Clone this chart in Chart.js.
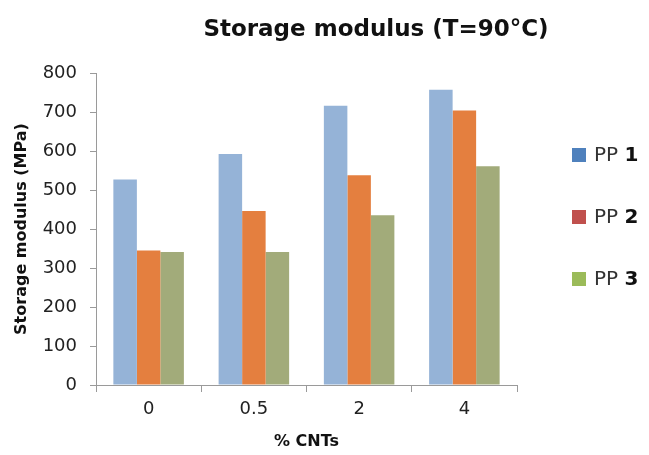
<!DOCTYPE html>
<html>
<head>
<meta charset="utf-8">
<script src="https://cdn.jsdelivr.net/npm/chart.js@4/dist/chart.umd.min.js"></script>
<style>
  html, body { margin: 0; padding: 0; background: #fff; }
  #wrap { position: relative; width: 649px; height: 455px; overflow: hidden; }
  #chart { position: absolute; left: 0; top: 0; }
  #title {
    position: absolute; left: 376px; top: 15px; transform: translateX(-50%);
    font: bold 23px "DejaVu Sans", sans-serif; color: #111; white-space: nowrap;
  }
  #legend { position: absolute; left: 572px; top: 0; }
  .item { position: absolute; left: 0; white-space: nowrap; font: 20px "DejaVu Sans", sans-serif; color: #333; }
  .item .sw { display: inline-block; width: 14px; height: 14px; margin-right: 8px; vertical-align: -1px; }
  .item b { color: #111; }
</style>
</head>
<body>
<div id="wrap">
  <canvas id="chart" width="649" height="455"></canvas>
  <div id="title">Storage modulus (T=90°C)</div>
  <div id="legend"></div>
</div>
<script>
// CNT content (%) on the x axis
const categories = ['0', '0.5', '2', '4'];
// storage modulus at 90 °C, MPa
const pp1 = [527, 592, 716, 757];
const pp2 = [345, 446, 538, 704];
const pp3 = [341, 341, 435, 561];
const seriesNames = ['PP 1', 'PP 2', 'PP 3'];
const yTicks = [0, 100, 200, 300, 400, 500, 600, 700, 800];

const barColors = ['#95B3D7', '#E47F3F', '#A2AB7A'];
const keyColors = ['#4F81BD', '#C0504D', '#9BBB59'];
const FONT = '"DejaVu Sans", sans-serif';

// legend built as html so the number can be bold
const legendRows = [154, 216, 278];
const legend = document.getElementById('legend');
seriesNames.forEach((name, i) => {
  const parts = name.split(' ');
  const row = document.createElement('div');
  row.className = 'item';
  row.style.top = (legendRows[i] - 12) + 'px';
  row.innerHTML = '<span class="sw" style="background:' + keyColors[i] + '"></span>' +
    parts[0] + ' <b>' + parts[1] + '</b>';
  legend.appendChild(row);
});

new Chart(document.getElementById('chart'), {
  type: 'bar',
  data: {
    labels: categories,
    datasets: [pp1, pp2, pp3].map((d, i) => ({
      label: seriesNames[i],
      data: d,
      backgroundColor: barColors[i],
      borderWidth: 0,
      categoryPercentage: 0.67,
      barPercentage: 1.0
    }))
  },
  options: {
    responsive: false,
    animation: false,
    layout: { padding: { left: 0, right: 132, top: 73, bottom: 0 } },
    plugins: { legend: { display: false }, tooltip: { enabled: false } },
    scales: {
      x: {
        offset: true,
        grid: { display: true, offset: true, drawOnChartArea: false, drawTicks: true, tickLength: 7, color: '#9a9a9a' },
        border: { color: '#9a9a9a', width: 1 },
        ticks: { color: '#222', font: { family: FONT, size: 18 }, padding: 7 },
        title: { display: true, text: '% CNTs', color: '#111', font: { family: FONT, size: 16, weight: 'bold' }, padding: { top: 0, bottom: 4 } },
        afterFit: s => { s.height = 70; }
      },
      y: {
        min: 0, max: 800,
        afterBuildTicks: s => { s.ticks = yTicks.map(v => ({ value: v })); },
        grid: { display: true, drawOnChartArea: false, drawTicks: true, tickLength: 6, color: '#9a9a9a' },
        border: { color: '#9a9a9a', width: 1 },
        ticks: { color: '#222', font: { family: FONT, size: 18 }, padding: 13 },
        title: { display: true, text: 'Storage modulus (MPa)', color: '#111', font: { family: FONT, size: 16, weight: 'bold' }, padding: { top: 12, bottom: 0 } },
        afterFit: s => { s.width = 96; }
      }
    }
  }
});
</script>
</body>
</html>
